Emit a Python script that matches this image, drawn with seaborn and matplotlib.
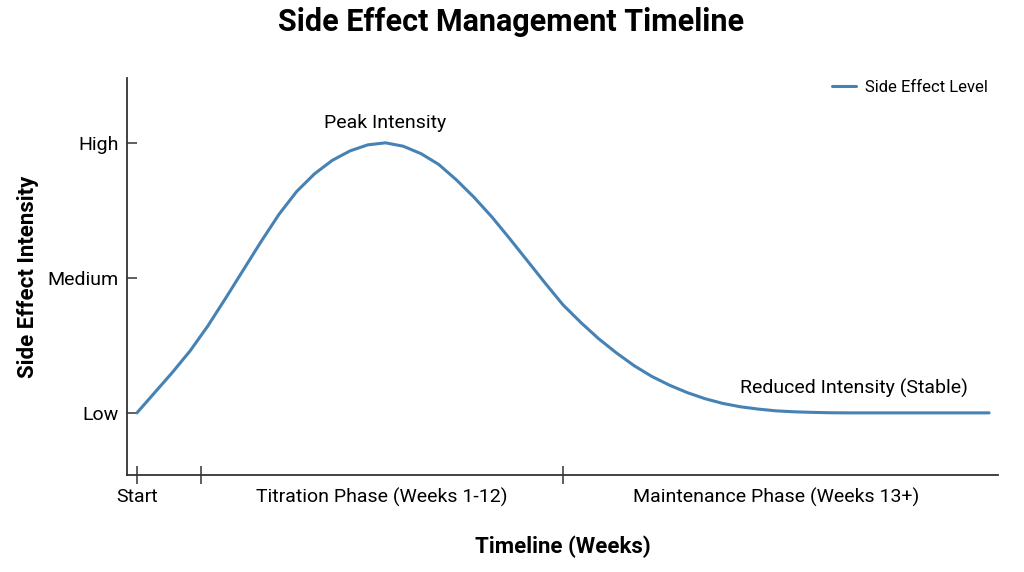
import matplotlib
matplotlib.use("Agg")
import matplotlib.pyplot as plt
import pandas as pd
import seaborn as sb

# timeline in weeks, intensity on a 1 (Low) .. 3 (High) scale
weeks = [0, 0.5, 1, 1.5, 2, 2.5, 3, 3.5, 4, 4.5, 5, 5.5, 6, 6.5, 7, 7.5,
         8, 8.5, 9, 9.5, 10, 10.5, 11, 11.5, 12, 12.5, 13, 13.5, 14, 14.5,
         15, 15.5, 16, 16.5, 17, 17.5, 18, 18.5, 19, 19.5, 20, 21, 22, 23, 24]
intensity = [1.00, 1.15, 1.30, 1.46, 1.645, 1.85, 2.06, 2.27, 2.47, 2.64,
             2.77, 2.87, 2.94, 2.985, 3.00, 2.975, 2.92, 2.84, 2.725, 2.595,
             2.45, 2.29, 2.125, 1.96, 1.80, 1.67, 1.55, 1.445, 1.35, 1.27,
             1.205, 1.15, 1.105, 1.07, 1.045, 1.028, 1.015, 1.008, 1.004, 1.001,
             1.0, 1.0, 1.0, 1.0, 1.0]

level_ticks = [1, 2, 3]
level_labels = ["Low", "Medium", "High"]

phase_bounds = [0, 1.8, 12, 24]
phase_labels = ["Titration Phase (Weeks 1-12)", "Maintenance Phase (Weeks 13+)"]

line_color = "#4682b4"
axis_color = "#333333"

sb.set_style("white")
plt.rcParams['font.family'] = ['Roboto', 'DejaVu Sans']
plt.rcParams['text.color'] = 'black'
plt.rcParams['xtick.color'] = 'black'
plt.rcParams['ytick.color'] = 'black'
plt.rcParams['axes.labelcolor'] = 'black'

df = pd.DataFrame({"Week": weeks, "Intensity": intensity})

fig = plt.figure(figsize=(10.24, 5.72), dpi=100)
ax = fig.add_axes([0.124, 0.1696, 0.8506, 0.694])

sb.lineplot(data=df, x="Week", y="Intensity", color=line_color, linewidth=2.2,
            label="Side Effect Level", ax=ax)

ax.set_xlim(-0.28, 24.25)
ax.set_ylim(0.54, 3.48)

# y axis: qualitative levels
ax.set_yticks(level_ticks)
ax.set_yticklabels(level_labels, fontsize=14)
ax.tick_params(axis="y", left=True, direction="in", length=7, width=1.1,
               color=axis_color, pad=6)

# x axis: phase boundaries as ticks, phase names centred between them
ax.set_xticks(phase_bounds[:3])
ax.set_xticklabels(["Start", "", ""], fontsize=14)
mids = [(phase_bounds[i] + phase_bounds[i + 1]) / 2 for i in (1, 2)]
ax.set_xticks(mids, minor=True)
ax.set_xticklabels(phase_labels, minor=True, fontsize=14)
ax.tick_params(axis="x", which="major", bottom=True, direction="inout", length=13,
               width=1.1, color=axis_color, pad=3)
ax.tick_params(axis="x", which="minor", bottom=True, length=0, pad=9.5)

for side in ["top", "right"]:
    ax.spines[side].set_visible(False)
for side in ["left", "bottom"]:
    ax.spines[side].set_color(axis_color)
    ax.spines[side].set_linewidth(1.3)

ax.set_xlabel("Timeline (Weeks)", fontsize=16, fontweight="bold", labelpad=20)
ax.set_ylabel("Side Effect Intensity", fontsize=16, fontweight="bold", labelpad=6)

peak_i = intensity.index(max(intensity))
ax.annotate("Peak Intensity", xy=(weeks[peak_i], intensity[peak_i]), xytext=(0, 8),
            textcoords="offset points", ha="center", va="bottom", fontsize=14)
ax.annotate("Reduced Intensity (Stable)", xy=(20.2, 1.0), xytext=(0, 11),
            textcoords="offset points", ha="center", va="bottom", fontsize=14)

ax.legend(loc="upper right", frameon=False, fontsize=12, handlelength=1.45,
          handletextpad=0.55, borderaxespad=0.2, bbox_to_anchor=(1.0, 1.02))

fig.suptitle("Side Effect Management Timeline", fontsize=22, fontweight="bold",
             x=0.499, y=0.9615, va="center")

fig.savefig("out.png", dpi=100)
